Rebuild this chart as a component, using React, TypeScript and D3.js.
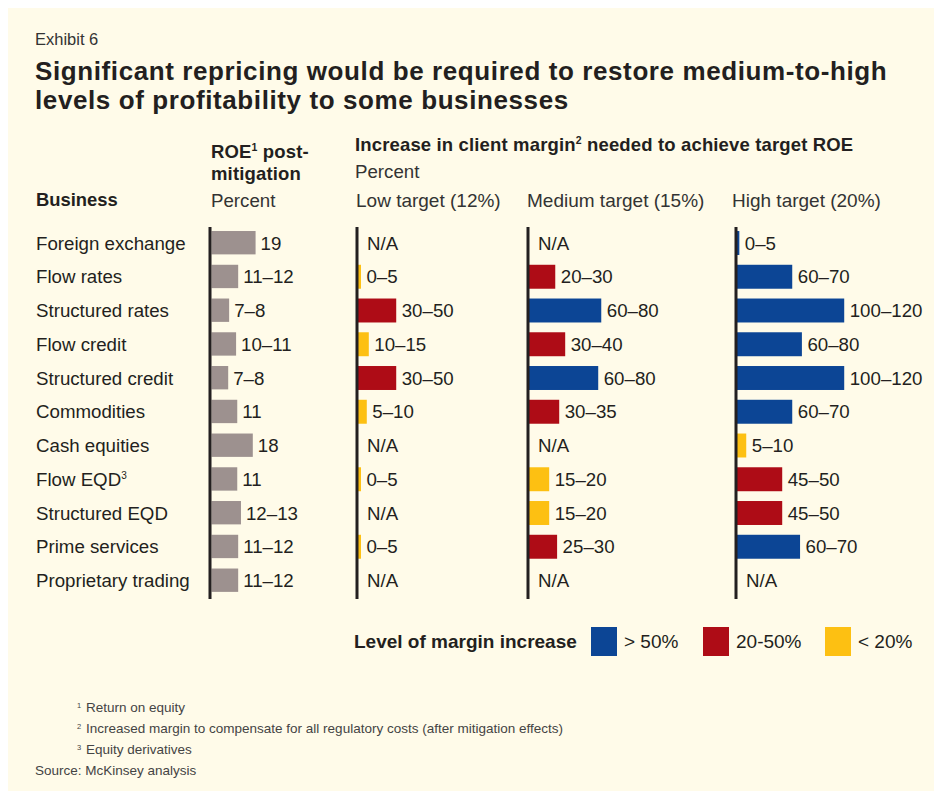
import React from "react";
import * as d3 from "d3";

const businesses = [
  "Foreign exchange",
  "Flow rates",
  "Structured rates",
  "Flow credit",
  "Structured credit",
  "Commodities",
  "Cash equities",
  "Flow EQD",
  "Structured EQD",
  "Prime services",
  "Proprietary trading",
];
const businessNotes = ["", "", "", "", "", "", "", "3", "", "", ""];

const roeValues = [19, 11.5, 7.6, 10.6, 7.2, 11.1, 17.8, 11.1, 12.7, 11.5, 11.5];
const roeLabels = ["19", "11–12", "7–8", "10–11", "7–8", "11", "18", "11", "12–13", "11–12", "11–12"];

const lowValues = [null, 2.7, 41, 11.2, 41, 9, null, 2.7, null, 2.7, null];
const lowLabels = ["N/A", "0–5", "30–50", "10–15", "30–50", "5–10", "N/A", "0–5", "N/A", "0–5", "N/A"];
const lowLevels = [null, "low", "mid", "low", "mid", "low", null, "low", null, "low", null];

const mediumValues = [null, 28, 78, 38.8, 74.7, 32.3, null, 21.4, 21.4, 30, null];
const mediumLabels = ["N/A", "20–30", "60–80", "30–40", "60–80", "30–35", "N/A", "15–20", "15–20", "25–30", "N/A"];
const mediumLevels = [null, "mid", "high", "mid", "high", "mid", null, "low", "low", "mid", null];

const highValues = [2, 59.5, 116, 70, 116, 59.5, 9.5, 48.6, 48.6, 68, null];
const highLabels = ["0–5", "60–70", "100–120", "60–80", "100–120", "60–70", "5–10", "45–50", "45–50", "60–70", "N/A"];
const highLevels = ["high", "high", "high", "high", "high", "high", "low", "mid", "mid", "high", null];

const targetHeaders = ["Low target (12%)", "Medium target (15%)", "High target (20%)"];
const legendKeys = ["high", "mid", "low"];
const legendLabels = ["> 50%", "20-50%", "< 20%"];
const footnotes = [
  ["1", "Return on equity"],
  ["2", "Increased margin to compensate for all regulatory costs (after mitigation effects)"],
  ["3", "Equity derivatives"],
];

const FONT = "'Liberation Sans', Arial, Helvetica, sans-serif";
const TEXT = "#231f20";
const SOFT = "#333333";
const BG = "#fffbe9";
const levelColor = d3
  .scaleOrdinal<string, string>()
  .domain(["high", "mid", "low"])
  .range(["#0c4595", "#ae0c16", "#fdc012"]);

export default function App() {
  const W = 934;
  const H = 791;
  const y = d3
    .scaleBand<string>()
    .domain(businesses)
    .range([226.125, 597.375])
    .paddingInner(0.29)
    .paddingOuter(0.145);
  const roeX = d3.scaleLinear().domain([0, 20]).range([0, 46.4]);
  const incX = d3.scaleLinear().domain([0, 120]).range([0, 110.4]);

  const axisTop = 227;
  const axisBottom = 599;

  const roeAxis = 210;
  const targetAxes = [357, 528, 736];
  const targetHeaderX = [356, 527, 732];
  const targetData = [
    { values: lowValues, labels: lowLabels, levels: lowLevels },
    { values: mediumValues, labels: mediumLabels, levels: mediumLevels },
    { values: highValues, labels: highLabels, levels: highLevels },
  ];

  const fs = 18.7;
  const hfs = 18.5;
  const hls = 0.15;

  return (
    <>
      <style>{`body{margin:0;overflow:hidden}`}</style>
      <svg width={W} height={H} style={{ display: "block" }} fontFamily={FONT}>
        <rect x={0} y={0} width={W} height={H} fill="#ffffff" />
        <rect x={8} y={8} width={W - 8} height={H - 8} fill={BG} />

        <text x={35} y={45} fontSize={16.5} fill={SOFT}>
          Exhibit 6
        </text>
        <text x={35} y={80} fontSize={26} fontWeight="bold" letterSpacing={0.6} fill={TEXT}>
          Significant repricing would be required to restore medium-to-high
        </text>
        <text x={35} y={109} fontSize={26} fontWeight="bold" letterSpacing={0.6} fill={TEXT}>
          levels of profitability to some businesses
        </text>

        {/* headers */}
        <text x={36} y={206} fontSize={18.4} fontWeight="bold" fill={TEXT}>
          Business
        </text>
        <text x={211} y={158} fontSize={hfs} letterSpacing={hls} fontWeight="bold" fill={TEXT}>
          ROE<tspan fontSize={10.5} dy={-7}>1</tspan>
          <tspan dy={7}> post-</tspan>
        </text>
        <text x={211} y={180} fontSize={hfs} letterSpacing={hls} fontWeight="bold" fill={TEXT}>
          mitigation
        </text>
        <text x={211} y={207} fontSize={fs} fill={SOFT}>
          Percent
        </text>
        <text x={355} y={151} fontSize={hfs} letterSpacing={hls} fontWeight="bold" fill={TEXT}>
          Increase in client margin<tspan fontSize={10.5} dy={-7}>2</tspan>
          <tspan dy={7}> needed to achieve target ROE</tspan>
        </text>
        <text x={355} y={178} fontSize={fs} fill={SOFT}>
          Percent
        </text>
        {targetHeaders.map((h, i) => (
          <text key={h} x={targetHeaderX[i]} y={207} fontSize={19} fill={SOFT}>
            {h}
          </text>
        ))}

        {/* business labels */}
        {businesses.map((b, i) => (
          <text
            key={b}
            x={36}
            y={(y(b) as number) + y.bandwidth() / 2}
            dy="0.36em"
            fontSize={fs}
            fill={TEXT}
          >
            {b}
            {businessNotes[i] && (
              <tspan fontSize={10} dy={-7}>
                {businessNotes[i]}
              </tspan>
            )}
          </text>
        ))}

        {/* ROE bars */}
        {businesses.map((b, i) => (
          <g key={"roe" + b}>
            <rect
              x={roeAxis + 1.5}
              y={y(b) as number}
              width={roeX(roeValues[i])}
              height={y.bandwidth() - 0.6}
              fill="#9d918f"
            />
            <text
              x={roeAxis + 1.5 + roeX(roeValues[i]) + 5}
              y={(y(b) as number) + y.bandwidth() / 2}
              dy="0.36em"
              fontSize={fs}
              fill={TEXT}
            >
              {roeLabels[i]}
            </text>
          </g>
        ))}

        {/* target columns */}
        {targetData.map((col, c) => (
          <g key={"col" + c}>
            {businesses.map((b, i) => {
              const v = col.values[i];
              const cy = (y(b) as number) + y.bandwidth() / 2;
              const x0 = targetAxes[c] + 1.5;
              if (v == null) {
                return (
                  <text key={b} x={targetAxes[c] + 10} y={cy} dy="0.36em" fontSize={fs} fill={TEXT}>
                    {col.labels[i]}
                  </text>
                );
              }
              return (
                <g key={b}>
                  <rect
                    x={x0 - 0.5}
                    y={y(b) as number}
                    width={incX(v) + 0.5}
                    height={y.bandwidth()}
                    fill={levelColor(col.levels[i] as string)}
                  />
                  <text x={x0 + incX(v) + 5.5} y={cy} dy="0.36em" fontSize={fs} fill={TEXT}>
                    {col.labels[i]}
                  </text>
                </g>
              );
            })}
          </g>
        ))}

        {/* axes */}
        {[roeAxis, ...targetAxes].map((ax) => (
          <line key={"ax" + ax} x1={ax} x2={ax} y1={axisTop} y2={axisBottom} stroke={TEXT} strokeWidth={3} />
        ))}

        {/* legend */}
        <text x={354} y={648} fontSize={19} fontWeight="bold" fill={TEXT}>
          Level of margin increase
        </text>
        {legendKeys.map((k, i) => {
          const sx = [591, 703, 825][i];
          return (
            <g key={k}>
              <rect x={sx} y={627} width={26} height={29} fill={levelColor(k)} />
              <text x={sx + 33} y={648} fontSize={19} fill={TEXT}>
                {legendLabels[i]}
              </text>
            </g>
          );
        })}

        {/* footnotes */}
        {footnotes.map(([n, t], i) => (
          <g key={n}>
            <text x={77} y={708 + i * 21} fontSize={7.5} fill="#444">
              {n}
            </text>
            <text x={86} y={712 + i * 21} fontSize={13.5} fill="#444">
              {t}
            </text>
          </g>
        ))}
        <text x={35} y={775} fontSize={13.5} fill="#444">
          Source: McKinsey analysis
        </text>
      </svg>
    </>
  );
}
